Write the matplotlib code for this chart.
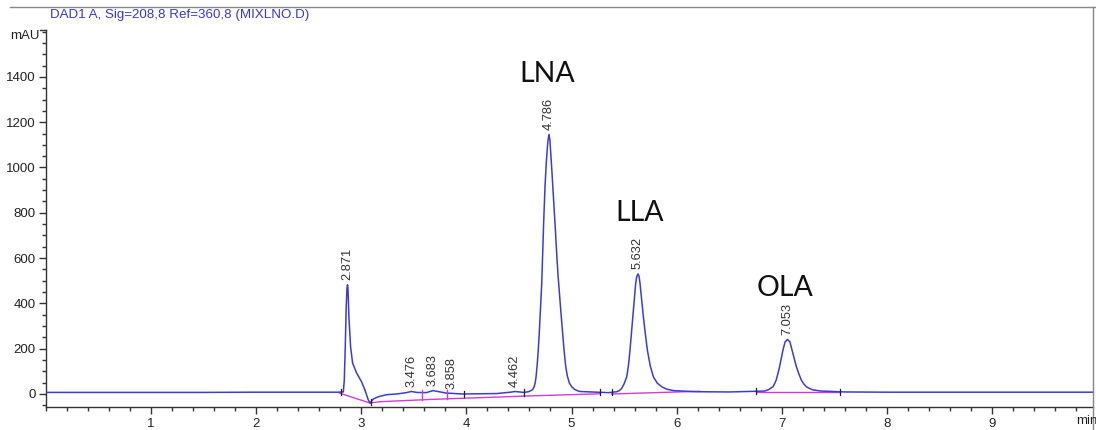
import numpy as np
import matplotlib
matplotlib.use("Agg")
import matplotlib.pyplot as plt
from matplotlib.lines import Line2D
from matplotlib.ticker import MultipleLocator

# --- chromatogram trace (min, mAU) ---
time = [0.00, 0.50, 1.00, 1.50, 2.00, 2.50, 2.78, 2.831,
        2.840, 2.849, 2.858, 2.866, 2.871, 2.875, 2.884, 2.900, 2.919, 2.957,
        3.004, 3.036, 3.068, 3.085, 3.116, 3.164, 3.243, 3.338, 3.43, 3.476,
        3.53, 3.62, 3.683, 3.74, 3.81, 3.97, 4.15, 4.29, 4.42, 4.462, 4.549,
        4.589, 4.600, 4.615, 4.631, 4.645, 4.655, 4.663, 4.673, 4.684, 4.693,
        4.701, 4.709, 4.717, 4.726, 4.736, 4.748, 4.760, 4.770, 4.778,
        4.786, 4.795, 4.802, 4.814, 4.827, 4.846, 4.859, 4.871, 4.884, 4.896,
        4.907, 4.918, 4.929, 4.944, 4.960, 4.980, 5.002, 5.030, 5.060,
        5.081, 5.240, 5.350, 5.430, 5.455, 5.477, 5.500, 5.525, 5.541, 5.556,
        5.569, 5.582, 5.596, 5.610, 5.620, 5.632, 5.642, 5.651, 5.667, 5.683,
        5.702, 5.721, 5.748, 5.778, 5.815, 5.858, 5.900, 5.968, 6.190, 6.500,
        6.835, 6.868, 6.915, 6.930, 6.946, 6.962, 6.978, 6.994, 7.010, 7.030,
        7.053, 7.076, 7.096, 7.116, 7.137, 7.160, 7.184, 7.207, 7.232, 7.260,
        7.295, 7.374, 7.600, 8.000, 8.500, 9.000, 9.500, 9.957]
signal = [7, 7, 7, 7, 8, 8, 8, 9,
          60, 200, 380, 470, 482, 468, 341, 209, 137, 93,
          54, 18, -26, -40, -22, -12, -3, 0, 6, 11,
          7, 6, 15, 10, 4, 0, 1, 2, 8, 11, 7,
          10, 12, 15, 20, 32, 50, 76, 125, 194, 265,
          341, 415, 489, 621, 768, 915, 1020, 1085, 1125,
          1146, 1120, 1070, 980, 880, 730, 621, 530, 450, 380,
          315, 255, 194, 125, 80, 48, 32, 20, 14,
          11, 8, 6, 10, 15, 25, 45, 76, 125, 194,
          265, 341, 415, 489, 518, 530, 520, 489, 415, 341,
          265, 194, 125, 76, 48, 32, 22, 15, 10, 9,
          13, 18, 32, 45, 62, 90, 121, 158, 194, 230,
          241, 230, 194, 158, 121, 90, 62, 45, 32, 25,
          18, 13, 9, 8, 8, 8, 8, 8]

# integration baseline segments drawn under the peaks
base_t = [[2.793, 3.085, 3.18, 3.66, 4.57, 5.27],
          [5.38, 6.22],
          [6.76, 7.55]]
base_y = [[4, -40, -34, -24, -9, 1],
          [0, 12],
          [11, 11]]

# labelled retention times and named compounds
peak_rt = [2.871, 3.476, 3.683, 3.858, 4.462, 4.786, 5.632, 7.053]
compounds = ["LNA", "LLA", "OLA"]
compound_rt = [4.786, 5.632, 7.053]

# peak start/stop markers
marker_rt = [2.809, 3.091, 3.981, 4.549, 5.271, 5.382, 6.754, 7.552]
drop_rt = [3.576, 3.820]

trace_color = "#3c3cd2"
base_color = "#d23cd2"

plt.rcParams["font.family"] = ["Liberation Sans", "DejaVu Sans"]

fig = plt.figure(figsize=(10.96, 4.30), dpi=100)
ax = fig.add_axes([45.5 / 1096, 23 / 430, (1093 - 45.5) / 1096, 377 / 430])

for bt, by in zip(base_t, base_y):
    ax.plot(bt, by, color=base_color, lw=1.0, zorder=2)
ax.plot(time, signal, color=trace_color, lw=1.1, zorder=3)

# start/stop ticks on the trace
for t in marker_rt:
    y = np.interp(t, time, signal)
    ax.plot([t, t], [y - 14, y + 14], color="#222222", lw=0.9, zorder=4)
for t in drop_rt:
    y = np.interp(t, time, signal)
    yb = np.interp(t, base_t[0], base_y[0])
    ax.plot([t, t], [yb, y + 12], color=base_color, lw=1.0, zorder=4)

# retention time labels
for rt in peak_rt:
    y = np.interp(rt, time, signal)
    ax.annotate(f"{rt:.3f}", (rt, y), xytext=(0, 3.5), textcoords="offset points",
                rotation=90, ha="center", va="bottom", fontsize=9.3,
                color="#333333")

# compound names
name_dx = [-0.02, 0.015, -0.02]
name_dy = [232, 232, 190]
for name, rt, dx, dy in zip(compounds, compound_rt, name_dx, name_dy):
    y = np.interp(rt, time, signal)
    ax.text(rt + dx, y + dy, name, ha="center", va="baseline",
            fontsize=20.5, family="Lato", color="#111111")

ax.set_xlim(0, 9.957)
ax.set_ylim(-57.4, 1607)
ax.set_xticks(range(1, 10))
ax.set_yticks(range(0, 1401, 200))
ax.xaxis.set_minor_locator(MultipleLocator(0.2))
ax.yaxis.set_minor_locator(MultipleLocator(50))
ax.tick_params(which="major", length=5, width=1.0, color="#333333",
               labelsize=9.5, labelcolor="#222222", pad=2)
ax.tick_params(which="minor", length=3, width=1.0, color="#333333")
ax.tick_params(axis="x", which="major", pad=3)
for side in ["top", "right"]:
    ax.spines[side].set_visible(False)
for side in ["left", "bottom"]:
    ax.spines[side].set_color("#333333")
    ax.spines[side].set_linewidth(1.0)

# frame lines, bracket at the top of the y axis, units
fig.add_artist(Line2D([10 / 1096, 1.0], [1 - 7 / 430] * 2, color="#888888", lw=1.0))
fig.add_artist(Line2D([1093 / 1096] * 2, [0, 1 - 7 / 430], color="#888888", lw=1.0))
fig.add_artist(Line2D([40 / 1096, 46 / 1096], [1 - 30 / 430] * 2, color="#333333", lw=1.0))
fig.text(10 / 1096, 1 - 36 / 430, "mAU", fontsize=9.5, color="#222222", va="center")
fig.text(1076 / 1096, 1 - 421 / 430, "min", fontsize=9.5, color="#222222", va="center")
fig.text(50 / 1096, 1 - 15 / 430, "DAD1 A, Sig=208,8 Ref=360,8 (MIXLNO.D)",
         fontsize=9.6, color="#3838c8", va="center")

fig.savefig("out.png", dpi=100)
